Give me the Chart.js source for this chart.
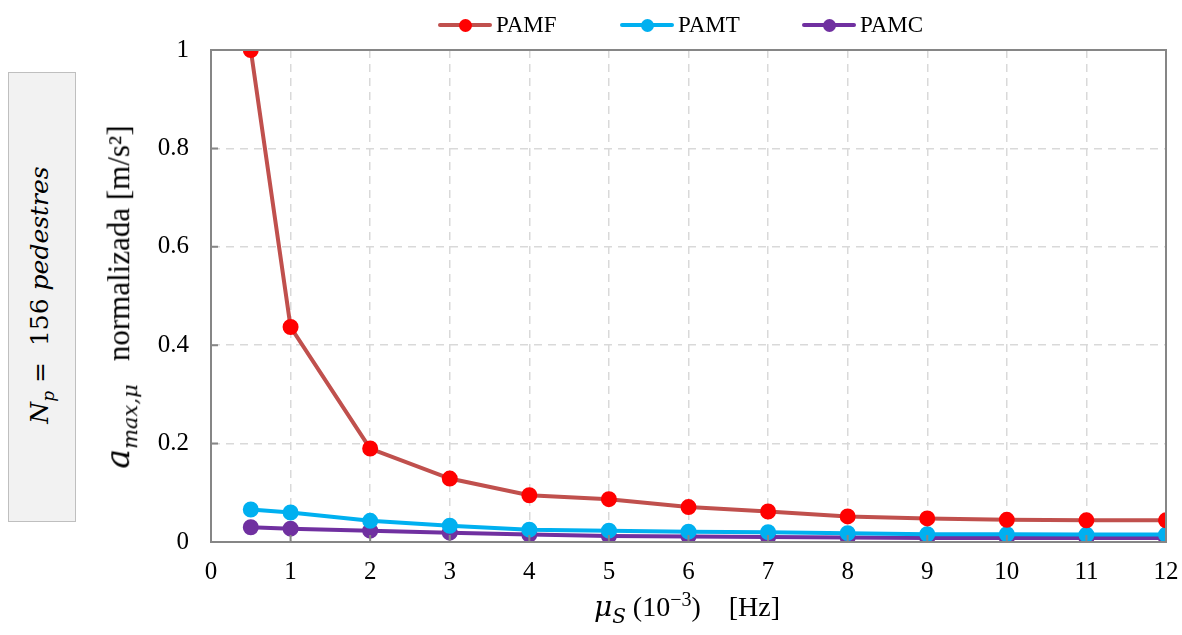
<!DOCTYPE html>
<html>
<head>
<meta charset="utf-8">
<script src="https://cdn.jsdelivr.net/npm/chart.js@4.4.0/dist/chart.umd.min.js"></script>
<style>
  body { margin: 0; background: #fff; }
  #wrap { position: relative; width: 1182px; height: 635px; font-family: "Liberation Serif", serif; }
  #side { position: absolute; left: 8px; top: 72px; width: 66px; height: 448px; background: #f2f2f2; border: 1px solid #bfbfbf; }
  .rot { position: absolute; white-space: nowrap; transform: translate(-50%, -50%) rotate(-90deg); color: #000; }
  #sidetxt { left: 41px; top: 295px; font-family: "DejaVu Serif", serif; font-size: 25px; }
  #ytitle { left: 120px; top: 297px; font-size: 31px; }
  #xtitle { position: absolute; left: 687px; top: 608px; transform: translate(-50%, -50%); font-size: 28px; white-space: nowrap; }
  .it { font-style: italic; font-family: "DejaVu Serif", serif; }
  .item { position: absolute; top: 12px; height: 26px; display: flex; align-items: center; font-size: 23px; }
  .sym { position: relative; width: 54px; height: 13px; margin-right: 4px; }
  .sym .ln { position: absolute; left: 0; right: 0; top: 4px; height: 4px; border-radius: 2px; }
  .sym .dt { position: absolute; left: 21px; top: 0; width: 13px; height: 13px; border-radius: 50%; }
</style>
</head>
<body>
<div id="wrap">
  <canvas id="chart" width="1182" height="635"></canvas>
  <div id="side"></div>
  <div class="rot" id="sidetxt"><span class="it">N<sub style="font-size:17px">p</sub></span> =&nbsp; 156 <span class="it">pedestres</span></div>
  <div class="rot" id="ytitle"><span class="it" style="font-size:33px">a<sub style="font-size:21px">max,μ</sub></span>&nbsp;&nbsp; normalizada [m/s²]</div>
  <div id="xtitle"><span class="it">μ<sub style="font-size:20px">S</sub></span>&nbsp;(10<sup style="font-size:20px">−3</sup>)&nbsp;&nbsp;&nbsp; [Hz]</div>
</div>
<script>
var freqs = [0.5, 1, 2, 3, 4, 5, 6, 7, 8, 9, 10, 11, 12];
var pamf = [1.0, 0.437, 0.19, 0.129, 0.095, 0.087, 0.071, 0.062, 0.052, 0.048, 0.045, 0.044, 0.044];
var pamt = [0.066, 0.060, 0.043, 0.033, 0.025, 0.023, 0.021, 0.020, 0.018, 0.016, 0.016, 0.015, 0.015];
var pamc = [0.030, 0.027, 0.023, 0.019, 0.015, 0.012, 0.011, 0.010, 0.009, 0.008, 0.008, 0.008, 0.008];

var seriesNames = ['PAMF', 'PAMT', 'PAMC'];
var lineColors = ['#c0504d', '#00b0f0', '#7030a0'];
var pointColors = ['#ff0000', '#00b0f0', '#7030a0'];
var seriesValues = [pamf, pamt, pamc];
var legendLeft = [438, 620, 802];

function toPoints(vals) {
  var pts = [];
  for (var i = 0; i < freqs.length; i++) {
    pts.push({x: freqs[i], y: vals[i]});
  }
  return pts;
}

var datasets = [];
for (var s = 0; s < seriesNames.length; s++) {
  datasets.push({
    label: seriesNames[s],
    data: toPoints(seriesValues[s]),
    borderColor: lineColors[s],
    backgroundColor: pointColors[s],
    pointBackgroundColor: pointColors[s],
    pointBorderColor: pointColors[s],
    pointRadius: 6,
    borderWidth: 4,
    tension: 0
  });
}

// html legend, line with dot in the middle
var wrap = document.getElementById('wrap');
for (var s = 0; s < seriesNames.length; s++) {
  var item = document.createElement('div');
  item.className = 'item';
  item.style.left = legendLeft[s] + 'px';
  item.innerHTML = '<div class="sym"><div class="ln" style="background:' + lineColors[s] + '"></div>' +
    '<div class="dt" style="background:' + pointColors[s] + '"></div></div>' + seriesNames[s];
  wrap.appendChild(item);
}

// plot frame and inward tick marks
var framePlugin = {
  id: 'frame',
  afterDraw: function(chart) {
    var ctx = chart.ctx, a = chart.chartArea;
    var xs = chart.scales.x, ys = chart.scales.y;
    ctx.save();
    ctx.strokeStyle = '#868686';
    ctx.lineWidth = 2;
    ctx.strokeRect(a.left, a.top, a.right - a.left, a.bottom - a.top);
    ctx.beginPath();
    for (var v = 1; v < 12; v++) {
      var px = xs.getPixelForValue(v);
      ctx.moveTo(px, a.bottom);
      ctx.lineTo(px, a.bottom - 7);
    }
    for (var k = 1; k < 5; k++) {
      var py = ys.getPixelForValue(k * 0.2);
      ctx.moveTo(a.left, py);
      ctx.lineTo(a.left + 7, py);
    }
    ctx.stroke();
    ctx.restore();
  }
};

new Chart(document.getElementById('chart').getContext('2d'), {
  type: 'line',
  data: { datasets: datasets },
  plugins: [framePlugin],
  options: {
    responsive: false,
    animation: false,
    layout: { padding: { top: 50, right: 0, left: 0, bottom: 0 } },
    plugins: { legend: { display: false }, tooltip: { enabled: false } },
    scales: {
      x: {
        type: 'linear',
        min: 0, max: 12,
        afterFit: function(scale) { scale.height = 93; scale.paddingRight = 16; scale.paddingLeft = 0; },
        ticks: { stepSize: 1, padding: 15, color: '#000', font: { family: 'Liberation Serif', size: 25 } },
        grid: { color: '#d9d9d9', lineWidth: 1.5, drawTicks: false },
        border: { color: '#868686', width: 2, dash: [8, 6] }
      },
      y: {
        min: 0, max: 1,
        afterFit: function(scale) { scale.width = 211; scale.paddingTop = 0; scale.paddingBottom = 0; },
        ticks: {
          stepSize: 0.2, padding: 22, color: '#000',
          font: { family: 'Liberation Serif', size: 25 },
          callback: function(v) { return String(Math.round(v * 10) / 10); }
        },
        grid: { color: '#d9d9d9', lineWidth: 1.5, drawTicks: false },
        border: { color: '#868686', width: 2, dash: [8, 6] }
      }
    }
  }
});
</script>
</body>
</html>
